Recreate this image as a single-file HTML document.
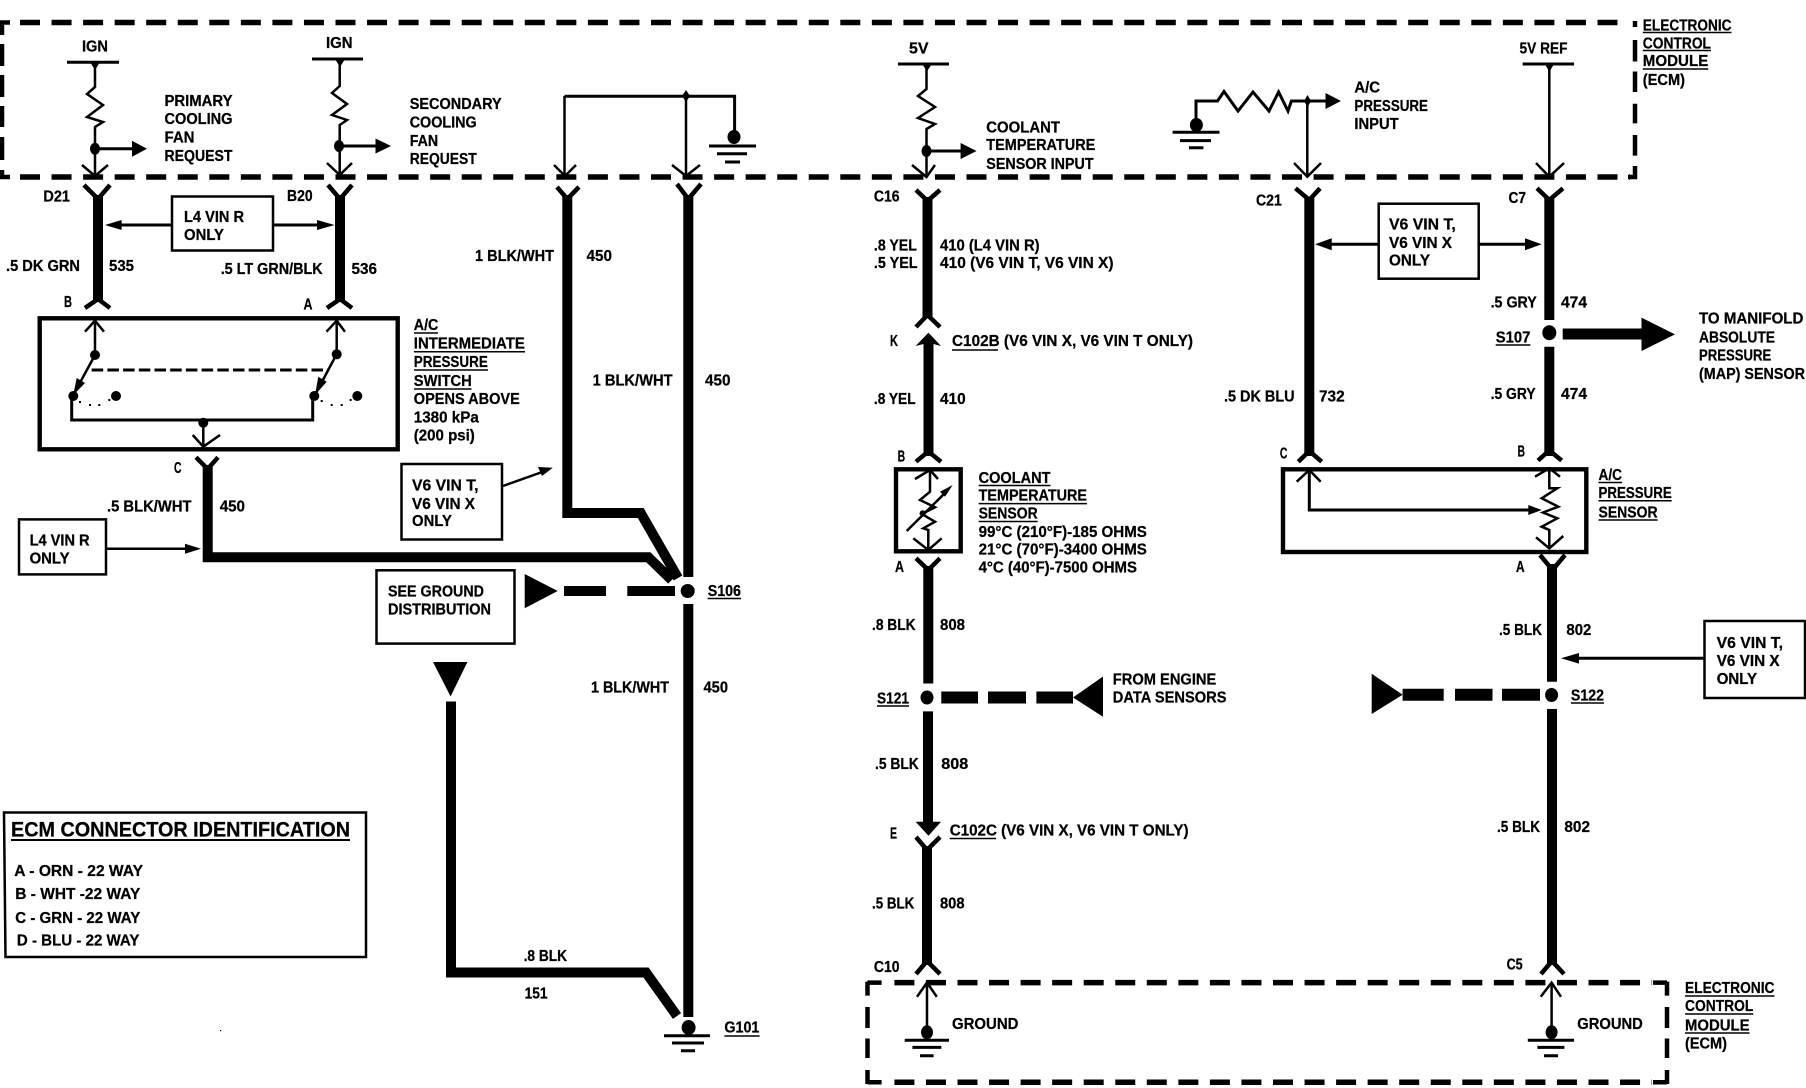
<!DOCTYPE html>
<html>
<head>
<meta charset="utf-8">
<title>Cooling fan and ECM wiring diagram</title>
<style>
html,body{margin:0;padding:0;background:#fff}
svg{display:block}
text{font-family:"Liberation Sans",sans-serif;font-weight:bold;font-size:15.5px;fill:#000;stroke:#000;stroke-width:.25}
.t{font-size:21px}
.w{fill:none;stroke:#000;stroke-width:10}
.f{fill:none;stroke:#000;stroke-width:4.5}
.n{fill:none;stroke:#000;stroke-width:2.5}
.m{fill:none;stroke:#000;stroke-width:3}
.b{fill:#fff;stroke:#000;stroke-width:2.5}
.h{fill:#fff;stroke:#000;stroke-width:4.4}
.d{fill:none;stroke:#000;stroke-width:5.5;stroke-dasharray:20 11.55}
.u{stroke:#000;stroke-width:1.5}
</style>
</head>
<body>
<svg width="1806" height="1088" viewBox="0 0 1806 1088" xmlns="http://www.w3.org/2000/svg">
<rect width="1806" height="1088" fill="#fff"/>

<!-- ECM dashed boxes -->
<path class="d" d="M20 22.5H1618"/>
<path class="d" d="M20 177H1630"/>
<g stroke="#000" stroke-width="4.5">
<path d="M2 21V35M2 44V66M2 75V97M2 106V127M2 137V160M2 170V179M0 22.5H10M0 177H10"/>
<path d="M1635 21V27M1635 40V61.5M1635 71.5V92M1635 103.7V123.4M1635 135V155.6M1635 166V179M1628 177H1637"/>
<path d="M867.5 981.6V995.6M867.5 1007V1028M867.5 1038.5V1058M867.5 1070V1084M867.5 982.6H881.6M867.5 1082.3H881.6"/>
<path d="M1667 981.6V995.6M1667 1007V1028M1667 1038.5V1058M1667 1070V1084M1653 982.6H1667M1653 1082.3H1667"/>
</g>
<path class="d" d="M894.4 982.6H1652"/>
<path class="d" d="M894.4 1082.3H1652"/>

<!-- IGN 1 -->
<path class="m" d="M67 62.3H119"/>
<path class="n" d="M95 62V87L87 94L103 105L87 117L103 122L95 127V175"/>
<path d="M90 62H100L95 70Z"/>
<ellipse cx="95" cy="148.7" rx="5" ry="6"/>
<path class="m" d="M95 148.7H134"/>
<path d="M132 140.7L147 148.7L132 156.7Z"/>
<path class="n" d="M82 165L95 176L108 165"/>
<!-- IGN 2 -->
<path class="m" d="M312 59H363"/>
<path class="n" d="M339.7 59V86L332 93L347 104L332 115L347 120L339.7 125V175"/>
<path d="M335 59H345L340 67Z"/>
<ellipse cx="339" cy="146" rx="5" ry="6"/>
<path class="m" d="M339 146H378"/>
<path d="M375.5 138.5L391 146L375.5 153.5Z"/>
<path class="n" d="M327 163L339.7 175L352 163"/>

<!-- Local ground top -->
<path class="m" d="M564.5 96.3H734.6V135"/>
<path class="n" d="M564.5 96V175M686 96V175"/>
<path class="n" d="M554 165L565 176L576 165M672 165L686 176L700 165"/>
<path d="M686 90L690 96L686 102L682 96Z"/>
<ellipse cx="734" cy="137" rx="6.5" ry="7"/>
<path class="m" d="M709 146H756M717 153.7H747M725 162H740"/>

<!-- Wires D21 / B20 -->
<path class="w" d="M98 195V302"/>
<path class="f" d="M84 185L98 199L110 185M85 308L98 299L110 308"/>
<path class="w" d="M340 195V302"/>
<path class="f" d="M328 185L340 199L352 185M327 308L340 299L352 308"/>
<rect class="b" x="172" y="196.5" width="101" height="54"/>
<path class="m" d="M172 225H115M273 225H322"/>
<path d="M105 225L121.6 220V230ZM334.6 225L317 220V230Z"/>

<!-- Switch -->
<rect class="h" x="39.7" y="318.3" width="358" height="131"/>
<path class="n" d="M95 320V355L73.3 395M336.7 320V354L315 395"/>
<path class="n" d="M85 331.7L95 320.7L104 331.7M326.500 331.7L336.7 320.7L345 331.7"/>
<circle cx="95" cy="355" r="5"/>
<circle cx="336.7" cy="354.300" r="5"/>
<circle cx="73.300" cy="396" r="5"/>
<circle cx="116" cy="396" r="5"/>
<circle cx="314.300" cy="396" r="5"/>
<circle cx="357.300" cy="396" r="5"/>
<path d="M76.700 378L85 383L73.300 395ZM318.300 376.700L326.700 381.700L315 395Z"/>
<path d="M79 401h2v2h-2zM89 404h2v2h-2zM98.300 404h2v2h-2zM108.300 399h2v2h-2zM320.700 400h2v2h-2zM330.700 404h2v2h-2zM340.700 404h2v2h-2zM349.700 399h2v2h-2z"/>
<path class="m" d="M91.700 370H328.300" stroke-dasharray="11.500 4.200"/>
<path class="m" d="M71.700 397V420H312.700V397"/>
<path class="n" d="M203.300 420V447M192.700 435L203.300 446.700L220 435"/>
<circle cx="203.300" cy="422.700" r="5"/>

<!-- C wire -->
<path class="f" d="M196 457.300L207.700 469L218 457.300"/>
<path class="w" d="M207.700 465V557.300H648.300L671.700 580"/>
<rect class="b" x="19" y="519.400" width="87" height="55"/>
<path class="n" d="M106 548.800H190"/>
<path d="M201 548.800L185 543.800V553.800Z"/>

<!-- D4 / C6 -->
<path class="f" d="M557 187L567.300 199L579 187"/>
<path class="w" d="M567.300 195V513H640.700L678 578"/>
<path class="f" d="M677 184L688.300 199L701 184"/>
<path class="w" d="M688.300 195V577M688.300 604V1017"/>
<circle cx="687.700" cy="591" r="12.500" fill="#fff"/>
<circle cx="687.700" cy="591" r="7"/>
<rect class="b" x="401.500" y="464" width="100.500" height="75.500"/>
<path class="n" d="M503 486L545 471"/>
<path d="M552.800 467.700L538 467L542 476Z"/>

<!-- see ground -->
<rect class="b" x="376.500" y="570.300" width="138" height="73.300"/>
<path d="M524.700 574L557.700 591L524.700 608.300Z"/>
<path d="M564 586H606V596H564ZM627.300 586H675V596H627.300Z"/>
<path d="M433 662H467.400L450.600 696.500Z"/>
<path class="w" d="M451 701.500V972.500H646L677 1016"/>
<ellipse cx="688.600" cy="1027.500" rx="7" ry="7.500"/>
<path class="m" d="M664 1035.800H710M672 1043H704M681 1050.700H695"/>
<rect x="220" y="1030" width="1.200" height="1.200"/>

<!-- ECM ID box -->
<path fill="none" stroke="#000" stroke-width="2.500" d="M4 812.500H366V957H5.500Z"/>
<path stroke="#000" stroke-width="2" d="M11 840H350"/>

<!-- 5V -->
<path class="m" d="M898 64H949"/>
<path class="n" d="M926.500 64V89L918 96L935 107L918 118L935 124L926.500 129V176"/>
<path d="M922 64H932L927 71Z"/>
<ellipse cx="926.500" cy="151" rx="5" ry="6"/>
<path class="m" d="M926.500 151H963"/>
<path d="M960.600 143L976.600 151L960.600 159Z"/>
<path class="n" d="M912 165L926.500 177L935 165"/>

<!-- AC pressure input -->
<path class="m" d="M1196 120V101H1217.500L1224 91.500L1238 111L1253 92L1269 111L1278.600 92L1288 111L1291.400 101H1327"/>
<ellipse cx="1196.400" cy="125" rx="6.500" ry="7"/>
<path class="m" d="M1172.600 132.300H1219.500M1180 140.600H1211M1189 147.700H1203.400"/>
<path d="M1307.500 95L1311 101L1307.500 107L1304 101Z"/>
<path d="M1325.500 93L1341 101L1325.500 109Z"/>
<path class="n" d="M1307.300 101V176M1294 163L1307.300 176.700L1321 163"/>

<!-- 5V REF -->
<path class="m" d="M1522.700 64H1574"/>
<path class="n" d="M1549.300 64V176M1536 163L1549.300 176.700L1564 163"/>
<path d="M1545 64H1554L1549.300 72Z"/>

<!-- C16 wire -->
<path class="f" d="M916 190L927.500 201L940 190"/>
<path class="w" d="M927.500 197V318"/>
<path class="f" d="M916 327L927.500 315L940 327"/>
<path d="M915.600 346L928.500 332.600L941 346L933.500 344V456H923.500V344Z"/>
<path class="f" d="M916 461.700L928.300 451.500L941 461.700"/>

<!-- coolant sensor -->
<rect class="h" x="896" y="469.300" width="64.700" height="82"/>
<path class="n" d="M930 471V491.700L920 500L935 507.300L921.700 514L935 521.700L923.300 528.300L928.300 530V550"/>
<path class="n" d="M915 479L930 470L938 479M913.300 538.300L928.300 550L941.700 538.300"/>
<path class="n" d="M906.700 531L948 490"/>
<path d="M940 491.700L952.700 485L945 496.700Z"/>
<circle cx="922.700" cy="513.300" r="3"/>

<!-- A wire -->
<path class="f" d="M916 558.300L928.300 570L940 558.300"/>
<path class="w" d="M928.300 566V683.500"/>
<ellipse cx="927" cy="697.500" rx="6.500" ry="7"/>
<path d="M941.300 691.500H978V703.500H941.300ZM988 691.500H1026V703.500H988ZM1036.400 691.500H1073V703.500H1036.400Z"/>
<path d="M1073 697.500L1103 676.500V716.700Z"/>
<path class="w" d="M928 711.400V824"/>
<path d="M915.600 821.700L928.500 835.700L941 821.700Z"/>
<path class="f" d="M916 837L927 850L940 837"/>
<path class="w" d="M927 846V965"/>
<path class="f" d="M916 974L927 961L940 974"/>
<path class="n" d="M927 983V1030M917 996.800L927 982.600L936.800 996.800"/>
<ellipse cx="927" cy="1032.300" rx="6" ry="7"/>
<path class="m" d="M904.700 1040.300H949M912.400 1047.400H941.300M920 1055.700H933.600"/>

<!-- C21 -->
<path class="f" d="M1295.500 188.300L1309.300 200L1320 188.300"/>
<path class="w" d="M1309.300 197V456"/>
<path class="f" d="M1298.300 461.700L1309.300 451L1321.700 461.700"/>
<!-- C7 -->
<path class="f" d="M1537 188.300L1549.300 200L1563 188.300"/>
<path class="w" d="M1549.300 197V320M1549.300 346.700V456"/>
<ellipse cx="1549.300" cy="332.700" rx="7" ry="7.500"/>
<path class="f" d="M1538 460.500L1549.300 450.500L1561.700 460.500"/>
<rect class="b" x="1378.700" y="203.700" width="100" height="75"/>
<path class="m" d="M1378.700 244.300H1325M1479 244.300H1530"/>
<path d="M1315 244.300L1331.700 238.300V250.300ZM1541.700 244.300L1525 238.300V250.300Z"/>
<path d="M1562.700 328.500H1642V339.500H1562.700Z"/>
<path d="M1641.500 317.600L1675 334.400L1641.500 351Z"/>

<!-- AC pressure sensor -->
<rect class="h" x="1283" y="469.300" width="303.300" height="82.700"/>
<path class="m" d="M1309.300 471V510H1530"/>
<path class="n" d="M1296.700 481.700L1309.300 470L1320.700 481.700"/>
<path d="M1541.700 510L1528.300 505V515Z"/>
<path class="n" d="M1549.300 469V488.300H1557.300L1541.700 498.300L1558.300 506.700L1543 512.500L1557.300 518.300L1541.700 526.700L1549.300 530V549"/>
<path class="n" d="M1535 476.700L1549.300 468.300L1560 476.700M1536 537.300L1549.300 548.300L1563.300 536"/>

<!-- Right lower wire -->
<path class="f" d="M1540 555L1552.500 570L1565 555"/>
<path class="w" d="M1552 564V681.700M1552 709V965"/>
<path class="f" d="M1541 974L1552 961L1564 974"/>
<ellipse cx="1551.600" cy="695" rx="6.500" ry="7"/>
<rect class="b" x="1704.500" y="621" width="100.500" height="77"/>
<path class="m" d="M1704.500 658.300H1575"/>
<path d="M1561 658.300L1579 653V663.600Z"/>
<path d="M1371.700 673.700L1402.600 694.700L1371.700 714Z"/>
<path d="M1402.600 688.700H1443.700V700.700H1402.600ZM1455 688.700H1492.500V700.700H1455ZM1502 688.700H1540V700.700H1502Z"/>
<path class="n" d="M1551.600 983V1030M1540.700 996.800L1551.600 982.600L1561 996.800"/>
<ellipse cx="1551.600" cy="1032.300" rx="6" ry="7"/>
<path class="m" d="M1527.800 1040.300H1574M1537.400 1047.400H1564.400M1544 1055.700H1558"/>

<!-- Underlines -->
<path class="u" d="M414 333H438M414 351.700H525M414 370H488M414 389H471.500M707.700 598.500H741M724.400 1036H759.600M1642.800 32.500H1731.500M1642.800 50.500H1711M1642.800 69H1708.300M952 350H998M978.600 485.500H1050.500M978.600 503.600H1087M978.600 521.500H1037.700M1495.700 345H1530.400M1598.500 482.500H1622M1598.500 500.700H1671.700M1598.500 520H1657.600M877 706H909M949.700 838.500H996M1570.900 703H1604M1685 996H1774.500M1685 1014H1753.300M1685 1033H1749.500"/>

<!-- Text -->
<g>
<text x="82" y="51.500" textLength="26" lengthAdjust="spacingAndGlyphs">IGN</text>
<text x="326" y="48" textLength="26.500" lengthAdjust="spacingAndGlyphs">IGN</text>
<text x="164.500" y="106" textLength="68" lengthAdjust="spacingAndGlyphs">PRIMARY</text>
<text x="164.500" y="124" textLength="68" lengthAdjust="spacingAndGlyphs">COOLING</text>
<text x="164.500" y="142.700" textLength="30" lengthAdjust="spacingAndGlyphs">FAN</text>
<text x="164.500" y="161" textLength="68" lengthAdjust="spacingAndGlyphs">REQUEST</text>
<text x="409.700" y="109" textLength="92" lengthAdjust="spacingAndGlyphs">SECONDARY</text>
<text x="409.700" y="127.700" textLength="67" lengthAdjust="spacingAndGlyphs">COOLING</text>
<text x="409.700" y="146" textLength="28.500" lengthAdjust="spacingAndGlyphs">FAN</text>
<text x="409.700" y="164" textLength="67" lengthAdjust="spacingAndGlyphs">REQUEST</text>
<text x="43.400" y="201.700" textLength="26.500" lengthAdjust="spacingAndGlyphs">D21</text>
<text x="287" y="201" textLength="25.600" lengthAdjust="spacingAndGlyphs">B20</text>
<text x="184" y="222" textLength="60" lengthAdjust="spacingAndGlyphs">L4 VIN R</text>
<text x="184" y="240" textLength="40" lengthAdjust="spacingAndGlyphs">ONLY</text>
<text x="6" y="271" textLength="74" lengthAdjust="spacingAndGlyphs">.5 DK GRN</text>
<text x="109" y="271" textLength="25" lengthAdjust="spacingAndGlyphs">535</text>
<text x="220.700" y="274" textLength="102" lengthAdjust="spacingAndGlyphs">.5 LT GRN/BLK</text>
<text x="351.500" y="274" textLength="25.500" lengthAdjust="spacingAndGlyphs">536</text>
<text x="64" y="307" textLength="8" lengthAdjust="spacingAndGlyphs">B</text>
<text x="303.500" y="309.700" textLength="9" lengthAdjust="spacingAndGlyphs">A</text>
<text x="174" y="473" textLength="7.500" lengthAdjust="spacingAndGlyphs">C</text>
<text x="413.800" y="330" textLength="24.500" lengthAdjust="spacingAndGlyphs">A/C</text>
<text x="413.800" y="348.300" textLength="111" lengthAdjust="spacingAndGlyphs">INTERMEDIATE</text>
<text x="413.800" y="367" textLength="74" lengthAdjust="spacingAndGlyphs">PRESSURE</text>
<text x="413.800" y="386" textLength="58" lengthAdjust="spacingAndGlyphs">SWITCH</text>
<text x="413.800" y="404" textLength="106" lengthAdjust="spacingAndGlyphs">OPENS ABOVE</text>
<text x="413.800" y="422.300" textLength="65" lengthAdjust="spacingAndGlyphs">1380 kPa</text>
<text x="413.800" y="440.700" textLength="61" lengthAdjust="spacingAndGlyphs">(200 psi)</text>
<text x="475" y="261" textLength="79" lengthAdjust="spacingAndGlyphs">1 BLK/WHT</text>
<text x="586.500" y="261" textLength="25.500" lengthAdjust="spacingAndGlyphs">450</text>
<text x="592.600" y="385.700" textLength="80" lengthAdjust="spacingAndGlyphs">1 BLK/WHT</text>
<text x="705" y="385.700" textLength="25.500" lengthAdjust="spacingAndGlyphs">450</text>
<text x="412" y="490.500" textLength="66.500" lengthAdjust="spacingAndGlyphs">V6 VIN T,</text>
<text x="412" y="509" textLength="63" lengthAdjust="spacingAndGlyphs">V6 VIN X</text>
<text x="412" y="526" textLength="40" lengthAdjust="spacingAndGlyphs">ONLY</text>
<text x="107" y="511.600" textLength="84.500" lengthAdjust="spacingAndGlyphs">.5 BLK/WHT</text>
<text x="219.700" y="511.600" textLength="25.300" lengthAdjust="spacingAndGlyphs">450</text>
<text x="29.600" y="545.500" textLength="60" lengthAdjust="spacingAndGlyphs">L4 VIN R</text>
<text x="29.600" y="563.300" textLength="40" lengthAdjust="spacingAndGlyphs">ONLY</text>
<text x="388" y="596.400" textLength="96" lengthAdjust="spacingAndGlyphs">SEE GROUND</text>
<text x="388" y="614.600" textLength="103" lengthAdjust="spacingAndGlyphs">DISTRIBUTION</text>
<text x="707.700" y="596" textLength="33.300" lengthAdjust="spacingAndGlyphs">S106</text>
<text x="591" y="692.400" textLength="78" lengthAdjust="spacingAndGlyphs">1 BLK/WHT</text>
<text x="703.500" y="692.400" textLength="24.500" lengthAdjust="spacingAndGlyphs">450</text>
<text x="523.600" y="961" textLength="43.500" lengthAdjust="spacingAndGlyphs">.8 BLK</text>
<text x="524.600" y="998.500" textLength="23" lengthAdjust="spacingAndGlyphs">151</text>
<text x="724.400" y="1032.500" textLength="35" lengthAdjust="spacingAndGlyphs">G101</text>
<text class="t" x="11" y="836.400" textLength="339" lengthAdjust="spacingAndGlyphs">ECM CONNECTOR IDENTIFICATION</text>
<text x="14.300" y="876" textLength="128.700" lengthAdjust="spacingAndGlyphs">A - ORN - 22 WAY</text>
<text x="15.300" y="898.800" textLength="125" lengthAdjust="spacingAndGlyphs">B - WHT -22 WAY</text>
<text x="15.300" y="922.800" textLength="125" lengthAdjust="spacingAndGlyphs">C - GRN - 22 WAY</text>
<text x="16.900" y="945.600" textLength="122.600" lengthAdjust="spacingAndGlyphs">D - BLU - 22 WAY</text>

<text x="909" y="53.600" textLength="19.500" lengthAdjust="spacingAndGlyphs">5V</text>
<text x="986.300" y="132.700" textLength="73.700" lengthAdjust="spacingAndGlyphs">COOLANT</text>
<text x="986.300" y="150" textLength="109" lengthAdjust="spacingAndGlyphs">TEMPERATURE</text>
<text x="986.300" y="168.800" textLength="107.300" lengthAdjust="spacingAndGlyphs">SENSOR INPUT</text>
<text x="1354.400" y="92.300" textLength="25.600" lengthAdjust="spacingAndGlyphs">A/C</text>
<text x="1354.400" y="110.900" textLength="73.600" lengthAdjust="spacingAndGlyphs">PRESSURE</text>
<text x="1354.400" y="128.800" textLength="44.300" lengthAdjust="spacingAndGlyphs">INPUT</text>
<text x="1519.500" y="53.600" textLength="48" lengthAdjust="spacingAndGlyphs">5V REF</text>
<text x="1642.800" y="30.400" textLength="88.700" lengthAdjust="spacingAndGlyphs">ELECTRONIC</text>
<text x="1642.800" y="48.300" textLength="68.200" lengthAdjust="spacingAndGlyphs">CONTROL</text>
<text x="1642.800" y="66" textLength="65.500" lengthAdjust="spacingAndGlyphs">MODULE</text>
<text x="1642.800" y="85" textLength="42.200" lengthAdjust="spacingAndGlyphs">(ECM)</text>

<text x="873.900" y="201.400" textLength="25.700" lengthAdjust="spacingAndGlyphs">C16</text>
<text x="1256" y="205.600" textLength="25.800" lengthAdjust="spacingAndGlyphs">C21</text>
<text x="1508.500" y="202.800" textLength="17.500" lengthAdjust="spacingAndGlyphs">C7</text>
<text x="873.900" y="250.400" textLength="43" lengthAdjust="spacingAndGlyphs">.8 YEL</text>
<text x="873.900" y="268.200" textLength="43.700" lengthAdjust="spacingAndGlyphs">.5 YEL</text>
<text x="940" y="250.400" textLength="99.600" lengthAdjust="spacingAndGlyphs">410 (L4 VIN R)</text>
<text x="940" y="268.200" textLength="173.500" lengthAdjust="spacingAndGlyphs">410 (V6 VIN T, V6 VIN X)</text>
<text x="890" y="346" textLength="8" lengthAdjust="spacingAndGlyphs">K</text>
<text x="952" y="346" textLength="241" lengthAdjust="spacingAndGlyphs">C102B (V6 VIN X, V6 VIN T ONLY)</text>
<text x="873.900" y="404" textLength="41.700" lengthAdjust="spacingAndGlyphs">.8 YEL</text>
<text x="940" y="404" textLength="25.700" lengthAdjust="spacingAndGlyphs">410</text>
<text x="897.600" y="461.400" textLength="7.500" lengthAdjust="spacingAndGlyphs">B</text>
<text x="978.600" y="482.800" textLength="71.900" lengthAdjust="spacingAndGlyphs">COOLANT</text>
<text x="978.600" y="500.700" textLength="108.400" lengthAdjust="spacingAndGlyphs">TEMPERATURE</text>
<text x="978.600" y="518.600" textLength="59.100" lengthAdjust="spacingAndGlyphs">SENSOR</text>
<text x="978.600" y="537" textLength="168.300" lengthAdjust="spacingAndGlyphs">99°C (210°F)-185 OHMS</text>
<text x="978.600" y="554.400" textLength="168.300" lengthAdjust="spacingAndGlyphs">21°C (70°F)-3400 OHMS</text>
<text x="978.600" y="572.500" textLength="158.400" lengthAdjust="spacingAndGlyphs">4°C (40°F)-7500 OHMS</text>
<text x="895" y="572" textLength="9" lengthAdjust="spacingAndGlyphs">A</text>
<text x="872" y="630" textLength="43.600" lengthAdjust="spacingAndGlyphs">.8 BLK</text>
<text x="940" y="630" textLength="25" lengthAdjust="spacingAndGlyphs">808</text>
<text x="877" y="703.400" textLength="32" lengthAdjust="spacingAndGlyphs">S121</text>
<text x="1112.800" y="684.500" textLength="103.500" lengthAdjust="spacingAndGlyphs">FROM ENGINE</text>
<text x="1112.800" y="702.700" textLength="113.700" lengthAdjust="spacingAndGlyphs">DATA SENSORS</text>
<text x="875" y="769" textLength="43.800" lengthAdjust="spacingAndGlyphs">.5 BLK</text>
<text x="941.300" y="769" textLength="27" lengthAdjust="spacingAndGlyphs">808</text>
<text x="890" y="838.500" textLength="7" lengthAdjust="spacingAndGlyphs">E</text>
<text x="949.700" y="835.700" textLength="238.900" lengthAdjust="spacingAndGlyphs">C102C (V6 VIN X, V6 VIN T ONLY)</text>
<text x="872" y="908.400" textLength="42.300" lengthAdjust="spacingAndGlyphs">.5 BLK</text>
<text x="940" y="908.400" textLength="24.500" lengthAdjust="spacingAndGlyphs">808</text>
<text x="873.900" y="972" textLength="25.700" lengthAdjust="spacingAndGlyphs">C10</text>
<text x="952" y="1029" textLength="66.400" lengthAdjust="spacingAndGlyphs">GROUND</text>
<text x="1577.300" y="1029" textLength="65.500" lengthAdjust="spacingAndGlyphs">GROUND</text>
<text x="1685" y="993" textLength="89.500" lengthAdjust="spacingAndGlyphs">ELECTRONIC</text>
<text x="1685" y="1011" textLength="68.300" lengthAdjust="spacingAndGlyphs">CONTROL</text>
<text x="1685" y="1030.500" textLength="64.500" lengthAdjust="spacingAndGlyphs">MODULE</text>
<text x="1685" y="1048.400" textLength="42" lengthAdjust="spacingAndGlyphs">(ECM)</text>

<text x="1389" y="229.300" textLength="66.800" lengthAdjust="spacingAndGlyphs">V6 VIN T,</text>
<text x="1389" y="247.900" textLength="63" lengthAdjust="spacingAndGlyphs">V6 VIN X</text>
<text x="1389" y="265.700" textLength="41" lengthAdjust="spacingAndGlyphs">ONLY</text>
<text x="1490.600" y="307.600" textLength="46.200" lengthAdjust="spacingAndGlyphs">.5 GRY</text>
<text x="1561" y="307.600" textLength="26" lengthAdjust="spacingAndGlyphs">474</text>
<text x="1495.700" y="342.300" textLength="34.700" lengthAdjust="spacingAndGlyphs">S107</text>
<text x="1699" y="323.700" textLength="104.400" lengthAdjust="spacingAndGlyphs">TO MANIFOLD</text>
<text x="1699" y="342.300" textLength="76" lengthAdjust="spacingAndGlyphs">ABSOLUTE</text>
<text x="1699" y="360.500" textLength="72.300" lengthAdjust="spacingAndGlyphs">PRESSURE</text>
<text x="1699" y="379" textLength="106" lengthAdjust="spacingAndGlyphs">(MAP) SENSOR</text>
<text x="1224" y="401.300" textLength="70.600" lengthAdjust="spacingAndGlyphs">.5 DK BLU</text>
<text x="1319" y="401.300" textLength="25.700" lengthAdjust="spacingAndGlyphs">732</text>
<text x="1490.600" y="398.800" textLength="45" lengthAdjust="spacingAndGlyphs">.5 GRY</text>
<text x="1561" y="398.800" textLength="26" lengthAdjust="spacingAndGlyphs">474</text>
<text x="1279.900" y="458.500" textLength="7.500" lengthAdjust="spacingAndGlyphs">C</text>
<text x="1517.500" y="456.700" textLength="7.500" lengthAdjust="spacingAndGlyphs">B</text>
<text x="1598.500" y="480" textLength="23.500" lengthAdjust="spacingAndGlyphs">A/C</text>
<text x="1598.500" y="498.200" textLength="73.200" lengthAdjust="spacingAndGlyphs">PRESSURE</text>
<text x="1598.500" y="517.500" textLength="59.100" lengthAdjust="spacingAndGlyphs">SENSOR</text>
<text x="1516" y="572.200" textLength="8.600" lengthAdjust="spacingAndGlyphs">A</text>
<text x="1499" y="635" textLength="43" lengthAdjust="spacingAndGlyphs">.5 BLK</text>
<text x="1566.400" y="635" textLength="25" lengthAdjust="spacingAndGlyphs">802</text>
<text x="1716.700" y="647.800" textLength="66.300" lengthAdjust="spacingAndGlyphs">V6 VIN T,</text>
<text x="1716.700" y="666" textLength="62.900" lengthAdjust="spacingAndGlyphs">V6 VIN X</text>
<text x="1716.700" y="684" textLength="40.300" lengthAdjust="spacingAndGlyphs">ONLY</text>
<text x="1570.900" y="700.300" textLength="33.100" lengthAdjust="spacingAndGlyphs">S122</text>
<text x="1497" y="832" textLength="43" lengthAdjust="spacingAndGlyphs">.5 BLK</text>
<text x="1564.400" y="832" textLength="25.600" lengthAdjust="spacingAndGlyphs">802</text>
<text x="1506.600" y="969.700" textLength="16.100" lengthAdjust="spacingAndGlyphs">C5</text>
</g>
</svg>
</body>
</html>
